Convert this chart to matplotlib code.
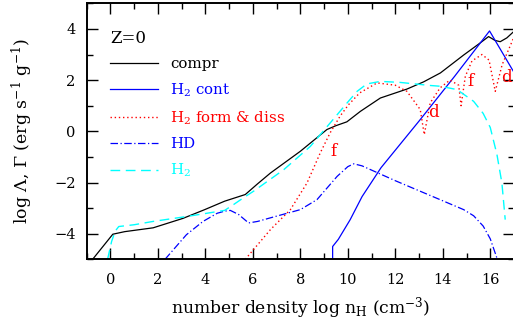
import matplotlib
matplotlib.use("Agg")
import matplotlib.pyplot as plt

plt.rcParams["font.family"] = ["DejaVu Serif"]
plt.rcParams["mathtext.fontset"] = "dejavuserif"
plt.rcParams["mathtext.default"] = "regular"

# curves: log n_H vs log Lambda/Gamma
compr_x = [-0.75, 0.1, 0.6, 1.8, 3.06, 3.97, 4.81, 5.68, 6.2, 6.74, 8.0, 9.12, 9.5, 9.96,
           10.53, 11.37, 12.49, 13.19, 13.9, 14.88, 15.5, 15.93, 16.2, 16.42, 16.7, 16.97]
compr_y = [-5.0, -4.02, -3.92, -3.77, -3.4, -3.06, -2.73, -2.47, -2.05, -1.63, -0.78, 0.07, 0.22, 0.37,
           0.78, 1.3, 1.65, 1.93, 2.28, 2.98, 3.4, 3.7, 3.55, 3.5, 3.65, 3.88]

h2cont_x = [9.36, 9.36, 9.6, 10.1, 10.6, 11.4, 13.0, 14.5, 15.97, 17.0]
h2cont_y = [-5.0, -4.5, -4.22, -3.45, -2.55, -1.42, 0.4, 2.15, 3.92, 2.3]

h2fd_x = [5.68, 6.74, 7.58, 8.28, 8.84, 9.26, 9.68, 10.03, 10.5, 11.23, 12.0, 12.49, 13.05, 13.22,
          13.47, 13.89, 14.3, 14.67, 14.77, 14.95, 15.23, 15.65, 15.95, 16.21, 16.5, 16.97]
h2fd_y = [-5.0, -3.84, -3.06, -2.02, -0.84, -0.05, 0.6, 1.04, 1.5, 1.89, 1.8, 1.56, 0.85, -0.13,
          1.11, 1.7, 2.0, 1.8, 1.0, 2.15, 2.75, 3.0, 2.78, 1.56, 2.6, 3.62]

hd_x = [2.3, 3.2, 3.9, 4.5, 4.81, 5.05, 5.4, 5.82, 6.2, 6.74, 8.0, 8.7, 9.55, 10.0, 10.25, 10.6,
        12.0, 14.88, 15.3, 15.7, 16.0, 16.28]
hd_y = [-5.0, -4.04, -3.52, -3.2, -3.12, -3.09, -3.25, -3.58, -3.52, -3.38, -3.06, -2.67, -1.76, -1.38, -1.27, -1.35,
        -1.93, -3.06, -3.3, -3.7, -4.2, -4.95]

h2_x = [-0.12, 0.05, 0.2, 0.35, 1.0, 1.8, 3.2, 4.81, 5.19, 5.6, 6.03, 7.3, 8.42, 9.26, 9.97, 10.39,
        10.8, 11.37, 12.2, 13.47, 13.89, 14.6, 15.3, 15.7, 16.0, 16.28, 16.49, 16.63]
h2_y = [-5.0, -4.3, -3.9, -3.72, -3.65, -3.52, -3.33, -3.09, -2.86, -2.6, -2.34, -1.5, -0.59, 0.33, 1.11, 1.56,
        1.85, 1.95, 1.91, 1.79, 1.76, 1.63, 1.17, 0.7, 0.15, -0.9, -2.02, -3.45]

# "f" / "d" markers along the formation & dissociation curve
fd_labels = ["f", "d", "f", "d"]
fd_label_x = [9.38, 13.59, 15.16, 16.68]
fd_label_y = [-0.78, 0.72, 1.95, 2.12]

RED = "#ff0000"
BLUE = "#0000ff"
CYAN = "#00ffff"

fig = plt.figure(figsize=(5.13, 3.29), dpi=100)
ax = fig.add_axes([86.7 / 513, 1 - 259.3 / 329, (514 - 86.7) / 513, 256 / 329])

ax.plot(compr_x, compr_y, color="black", lw=0.9, label="compr")
ax.plot(h2cont_x, h2cont_y, color=BLUE, lw=0.9, label="H$_2$ cont")
ax.plot(h2fd_x, h2fd_y, color=RED, lw=1.0, linestyle=(0, (1, 2)), label="H$_2$ form & diss")
ax.plot(hd_x, hd_y, color=BLUE, lw=0.9, linestyle=(0, (6, 2, 1, 2)), label="HD")
ax.plot(h2_x, h2_y, color=CYAN, lw=1.0, linestyle=(0, (7, 4)), label="H$_2$")

for s, x, y in zip(fd_labels, fd_label_x, fd_label_y):
    ax.text(x, y, s, color=RED, fontsize=12, ha="center", va="center")

ax.set_xlim(-1, 17)
ax.set_ylim(-5, 5)
ax.set_xticks(range(0, 17, 2))
ax.set_xticks(range(-1, 18), minor=True)
ax.set_yticks(range(-4, 5, 2))
ax.set_yticks(range(-5, 6), minor=True)
ax.tick_params(which="both", direction="in", top=True, right=True, width=1, labelsize=10.5)
ax.tick_params(which="major", length=8)
ax.tick_params(axis="x", which="major", pad=10)
ax.tick_params(axis="y", which="major", pad=8)
ax.tick_params(which="minor", length=4)
for sp in ax.spines.values():
    sp.set_linewidth(1.4)

ax.set_xlabel("number density log n$_H$ (cm$^{-3}$)", fontsize=12.3, labelpad=6)
ax.set_ylabel(r"log $\Lambda$, $\Gamma$ (erg s$^{-1}$ g$^{-1}$)", fontsize=12.5, labelpad=14)

leg = ax.legend(loc="upper left", bbox_to_anchor=(0.055, 0.897), frameon=False, fontsize=10.8,
                title="Z=0", title_fontsize=12, alignment="left", handlelength=3.2,
                handletextpad=0.8, labelspacing=0.7, borderpad=0, borderaxespad=0,
                labelcolor=["black", BLUE, RED, BLUE, CYAN])

fig.savefig("out.png", dpi=100, facecolor="white")
